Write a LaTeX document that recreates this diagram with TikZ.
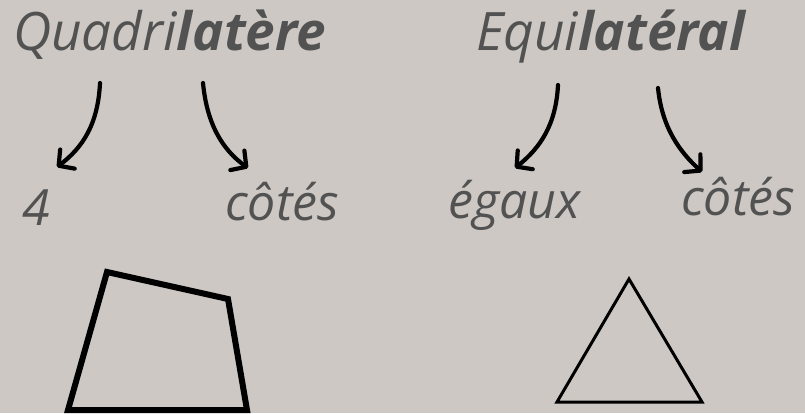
\documentclass[tikz,border=0pt]{standalone}
\usepackage{fontspec}
\setmainfont{Open Sans}
\usetikzlibrary{arrows.meta}
\definecolor{paper}{RGB}{205,200,195}
\definecolor{ink}{RGB}{82,82,82}
\tikzset{
  word/.style={anchor=base west, inner sep=0pt, text=ink, font=\itshape\fontsize{53}{60}\selectfont},
  part/.style={anchor=base west, inner sep=0pt, text=ink, font=\itshape\fontsize{50}{58}\selectfont},
  curvy/.style={line width=4.2pt, line cap=round, -{Straight Barb[length=11pt,width=24pt,round]}}
}
\begin{document}
\begin{tikzpicture}[x=1pt, y=-1pt]
    % Background
    \fill[paper] (0,0) rectangle (805,413);
    \useasboundingbox (0,0) rectangle (805,413);

    % Words
    \node[word] (quad) at (13,50) {Quadri\textbf{latère}};
    \node[word] (equi) at (476,50) {Equi\textbf{latéral}};

    \node[part] (four) at (22,225) {4};
    \node[part] (cotesA) at (225,220) {côtés};
    \node[part] (egaux) at (448,218) {égaux};
    \node[part] (cotesB) at (681,215) {côtés};

    % Arrow ends
    \coordinate (qa) at (100,83);
    \coordinate (qb) at (203,83);
    \coordinate (ea) at (558,85);
    \coordinate (eb) at (658,88);
    \coordinate (fa) at (57,167);
    \coordinate (fb) at (248,168);
    \coordinate (ga) at (515,168);
    \coordinate (gb) at (702,172);

    \draw[curvy] (qa) .. controls (98,125) and (82,148) .. (fa);
    \draw[curvy] (qb) .. controls (207,125) and (223,150) .. (fb);
    \draw[curvy] (ea) .. controls (556,125) and (540,148) .. (ga);
    \draw[curvy] (eb) .. controls (662,128) and (680,152) .. (gb);

    % Shapes
    \draw[line width=6pt, line join=miter] (107,272) -- (228,299) -- (247,410) -- (68,410) -- cycle;
    \draw[line width=3pt, line join=miter] (629,279) -- (702,402) -- (557,402) -- cycle;
\end{tikzpicture}
\end{document}
